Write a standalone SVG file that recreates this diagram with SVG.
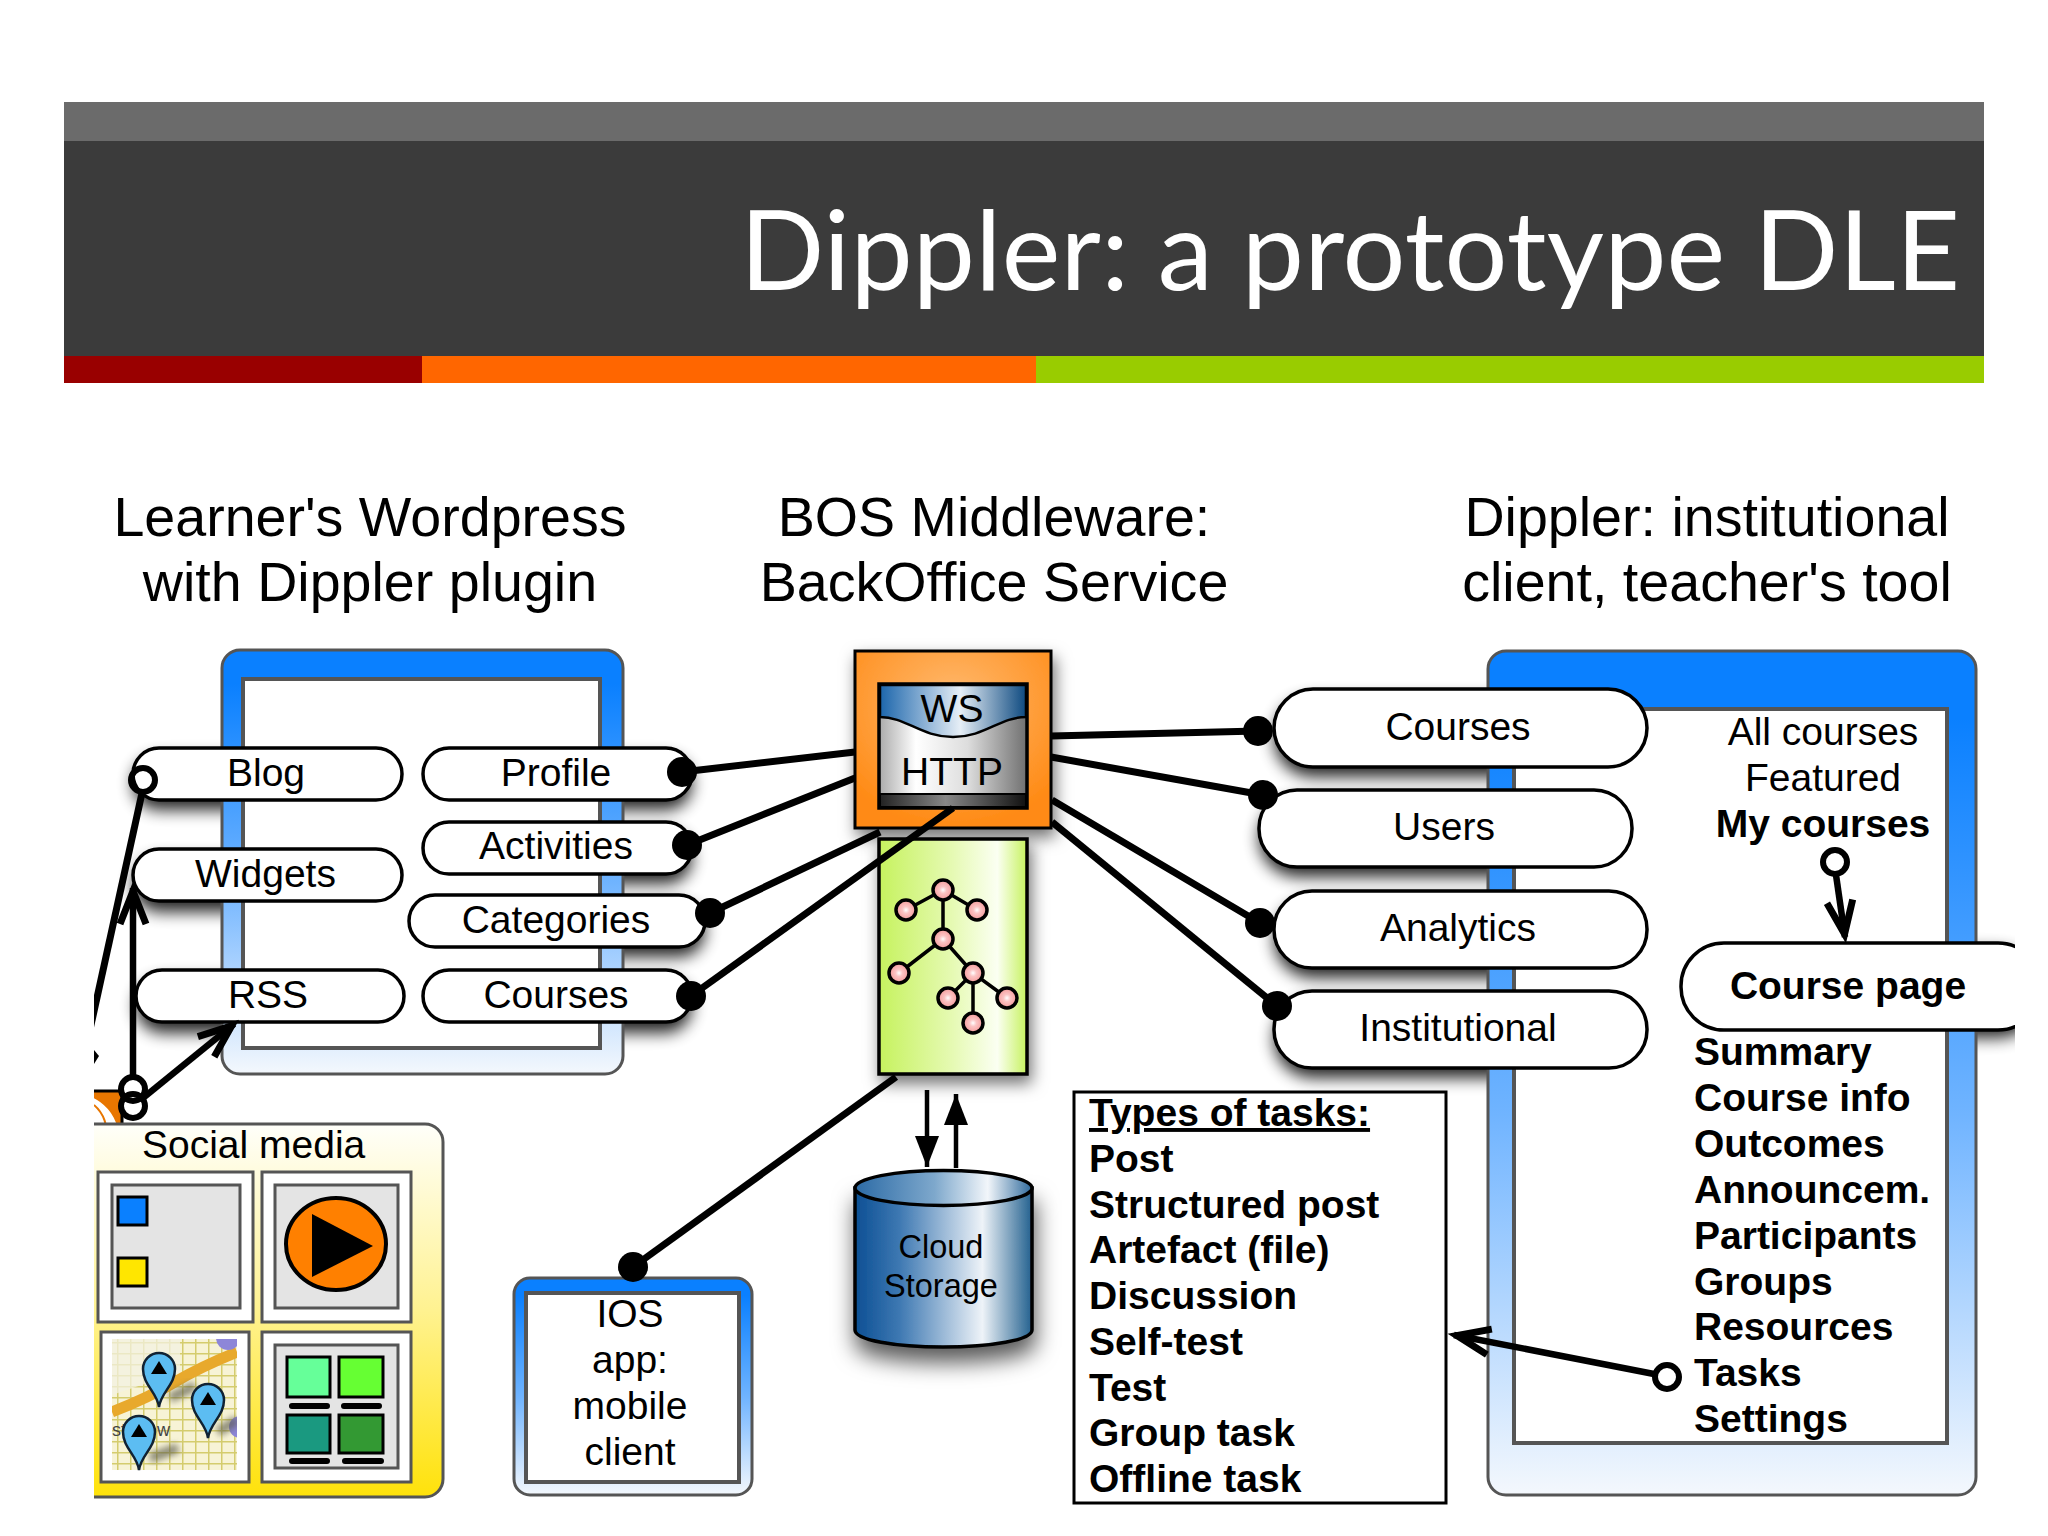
<svg xmlns="http://www.w3.org/2000/svg" width="2048" height="1536" viewBox="0 0 2048 1536">
<style>
text{font-family:"Liberation Sans",Arial,sans-serif;font-size:39px;fill:#000}
.m{text-anchor:middle}
.b{font-weight:bold}
.h{font-size:55.6px;text-anchor:middle}
.pill{fill:#fff;stroke:#000;stroke-width:3.5}
.ps{fill:#000;opacity:.85;filter:url(#blur)}
.panel{stroke:#555;stroke-width:3}
.inner{fill:#fff;stroke:#555;stroke-width:4}
.cell{fill:#fff;stroke:#555;stroke-width:3}
.gr{fill:#e4e4e4;stroke:#555;stroke-width:3}
.c{stroke:#000;stroke-width:7;fill:none}
.a{stroke:#000;stroke-width:6.5;fill:none;marker-end:url(#open)}
.o{fill:none;stroke:#000;stroke-width:6}
.n{fill:url(#pink);stroke:#000;stroke-width:3.5}
.t{stroke:#000;stroke-width:3.5;fill:none}
.tile{stroke:#000;stroke-width:3}
.pin{fill:#5cbdf2;stroke:#123;stroke-width:2.5}
</style>
<defs>
<clipPath id="clip"><rect x="94" y="440" width="1921" height="1096"/></clipPath>
<clipPath id="mapclip"><rect x="112" y="1339" width="125" height="131"/></clipPath>
<filter id="blur" x="-20%" y="-60%" width="140%" height="220%"><feGaussianBlur stdDeviation="8"/></filter>
<filter id="soft" x="-25%" y="-25%" width="150%" height="150%"><feDropShadow dx="3" dy="8" stdDeviation="8" flood-color="#000" flood-opacity=".55"/></filter>
<filter id="softer" x="-25%" y="-25%" width="150%" height="160%"><feDropShadow dx="2" dy="14" stdDeviation="11" flood-color="#000" flood-opacity=".65"/></filter>
<filter id="mapblur"><feGaussianBlur stdDeviation="3"/></filter>
<linearGradient id="blue" x1="0" y1="0" x2="0" y2="1"><stop offset=".08" stop-color="#0a80ff"/><stop offset=".55" stop-color="#70b4ff"/><stop offset="1" stop-color="#f4f8fd"/></linearGradient>
<linearGradient id="yellow" x1="0" y1="0" x2="0" y2="1"><stop offset="0" stop-color="#fffffa"/><stop offset=".5" stop-color="#fff290"/><stop offset="1" stop-color="#ffe20a"/></linearGradient>
<linearGradient id="green" x1="0" y1="0" x2="1" y2="0"><stop offset="0" stop-color="#c6f25e"/><stop offset=".5" stop-color="#e6fab4"/><stop offset=".8" stop-color="#fbfff2"/><stop offset="1" stop-color="#c6f25e"/></linearGradient>
<radialGradient id="orange" cx=".5" cy=".3" r=".7"><stop offset="0" stop-color="#ffba70"/><stop offset="1" stop-color="#ff8a14"/></radialGradient>
<linearGradient id="wsb" x1="0" y1="0" x2="1" y2="0"><stop offset="0" stop-color="#1c66ac"/><stop offset=".55" stop-color="#e6eef6"/><stop offset="1" stop-color="#0e4a80"/></linearGradient>
<linearGradient id="silver" x1="0" y1="0" x2="1" y2="0"><stop offset="0" stop-color="#aaa"/><stop offset=".25" stop-color="#fff"/><stop offset=".6" stop-color="#ddd"/><stop offset="1" stop-color="#707070"/></linearGradient>
<linearGradient id="dark" x1="0" y1="0" x2="1" y2="0"><stop offset="0" stop-color="#222"/><stop offset=".45" stop-color="#888"/><stop offset="1" stop-color="#111"/></linearGradient>
<linearGradient id="cyl" x1="0" y1="0" x2="1" y2="0"><stop offset="0" stop-color="#0c4f94"/><stop offset=".25" stop-color="#3d78b2"/><stop offset=".72" stop-color="#eef3f8"/><stop offset="1" stop-color="#23618f"/></linearGradient>
<linearGradient id="cylt" x1="0" y1="0" x2="1" y2="0"><stop offset="0" stop-color="#2c6ba6"/><stop offset=".45" stop-color="#7ea8cc"/><stop offset=".75" stop-color="#f2f6fa"/><stop offset="1" stop-color="#2f6a9c"/></linearGradient>
<radialGradient id="pink"><stop offset="0" stop-color="#fff"/><stop offset=".35" stop-color="#fbc4c4"/><stop offset="1" stop-color="#f59a9a"/></radialGradient>
<pattern id="grid" width="13" height="11" patternUnits="userSpaceOnUse"><rect width="13" height="11" fill="#f7f3d6"/><path d="M0 0H13M0 0V11" stroke="#d4cc6e" stroke-width="3" fill="none"/></pattern>
<marker id="open" markerUnits="userSpaceOnUse" viewBox="-42 -18 50 36" refX="0" refY="0" markerWidth="50" markerHeight="36" orient="auto"><path d="M-36,-13 L-3,0 L-36,13" fill="none" stroke="#000" stroke-width="7"/></marker>
<marker id="solid" markerUnits="userSpaceOnUse" viewBox="-32 -14 34 28" refX="0" refY="0" markerWidth="34" markerHeight="28" orient="auto"><path d="M-31,-12 L0,0 L-31,12 Z" fill="#000"/></marker>
</defs>

<rect width="2048" height="1536" fill="#fff"/>
<g id="header">
<rect x="64" y="102" width="1920" height="40" fill="#6b6b6b"/>
<rect x="64" y="141" width="1920" height="216" fill="#3b3b3b"/>
<rect x="64" y="356" width="358" height="27" fill="#990000"/>
<rect x="422" y="356" width="614" height="27" fill="#ff6600"/>
<rect x="1036" y="356" width="948" height="27" fill="#99cc00"/>
<text x="1960" y="290" text-anchor="end" textLength="1220" lengthAdjust="spacing" style="font-family:Lato,'Open Sans',sans-serif;font-size:111px;fill:#fff">Dippler: a prototype DLE</text>
</g>
<g id="headings">
<text class="h" x="370" y="536">Learner's Wordpress</text>
<text class="h" x="370" y="601">with Dippler plugin</text>
<text class="h" x="994" y="536">BOS Middleware:</text>
<text class="h" x="994" y="601">BackOffice Service</text>
<text class="h" x="1707" y="536">Dippler: institutional</text>
<text class="h" x="1707" y="601">client, teacher's tool</text>
</g>

<g clip-path="url(#clip)">
<g id="pill-shadows">
<rect class="ps" x="133" y="757" width="270" height="53" rx="26"/>
<rect class="ps" x="133" y="858" width="270" height="54" rx="27"/>
<rect class="ps" x="136" y="979" width="268" height="54" rx="27"/>
<rect class="ps" x="423" y="757" width="269" height="53" rx="26"/>
<rect class="ps" x="423" y="831" width="269" height="53" rx="26"/>
<rect class="ps" x="408" y="904" width="297" height="53" rx="26"/>
<rect class="ps" x="423" y="979" width="269" height="54" rx="27"/>
<rect class="ps" x="1274" y="698" width="373" height="79" rx="39"/>
<rect class="ps" x="1259" y="799" width="373" height="78" rx="39"/>
<rect class="ps" x="1274" y="900" width="373" height="78" rx="39"/>
<rect class="ps" x="1274" y="1000" width="373" height="78" rx="39"/>
<rect class="ps" x="1681" y="950" width="360" height="88" rx="44"/>
</g>

<g id="wordpress-panel">
<rect class="panel" x="222" y="650" width="401" height="424" rx="18" fill="url(#blue)"/>
<rect class="inner" x="243" y="679" width="357" height="369"/>
</g>
<g id="institutional-panel">
<rect class="panel" x="1488" y="651" width="488" height="844" rx="18" fill="url(#blue)"/>
<rect class="inner" x="1514" y="709" width="433" height="734"/>
</g>

<g id="node-blog"><rect class="pill" x="133" y="748" width="269" height="52" rx="26"/><text class="m" x="266" y="786">Blog</text></g>
<g id="node-widgets"><rect class="pill" x="133" y="849" width="269" height="52" rx="26"/><text class="m" x="265.500" y="887">Widgets</text></g>
<g id="node-rss"><rect class="pill" x="136" y="970" width="268" height="52" rx="26"/><text class="m" x="268" y="1008">RSS</text></g>
<g id="node-profile"><rect class="pill" x="423" y="748" width="269" height="52" rx="26"/><text class="m" x="556" y="786">Profile</text></g>
<g id="node-activities"><rect class="pill" x="423" y="822" width="269" height="52" rx="26"/><text class="m" x="556" y="859">Activities</text></g>
<g id="node-categories"><rect class="pill" x="409" y="895" width="296" height="52" rx="26"/><text class="m" x="556" y="933">Categories</text></g>
<g id="node-courses-left"><rect class="pill" x="423" y="970" width="269" height="52" rx="26"/><text class="m" x="556" y="1008">Courses</text></g>

<g id="node-rss-icon">
<rect x="60" y="1091" width="62" height="50" fill="#e87600" stroke="#000" stroke-width="3"/>
<path d="M60,1141 V1095 A46,46 0 0 1 119,1138 V1139.500 H60 Z" fill="#fff"/>
<path d="M94,1105 A36,36 0 0 1 106,1139" fill="none" stroke="#e87600" stroke-width="2"/>
</g>

<g id="node-social">
<rect class="panel" x="60" y="1124" width="383" height="373" rx="18" fill="url(#yellow)" stroke-width="4"/>
<text x="142" y="1158">Social media</text>
<rect class="cell" x="98" y="1172" width="155" height="150"/>
<rect class="gr" x="112" y="1185" width="128" height="123"/>
<rect x="118" y="1197" width="29" height="28" fill="#0a80ff" stroke="#000" stroke-width="3"/>
<rect x="118" y="1258" width="29" height="28" fill="#ffe600" stroke="#000" stroke-width="3"/>
<rect class="cell" x="262" y="1172" width="149" height="150"/>
<rect class="gr" x="275" y="1185" width="123" height="123"/>
<ellipse cx="336" cy="1244" rx="50" ry="46" fill="#ff8000" stroke="#000" stroke-width="4"/>
<path d="M312,1214 L373,1246 L312,1277 Z" fill="#000"/>
<rect class="cell" x="101" y="1332" width="148" height="150"/>
<g clip-path="url(#mapclip)">
<rect x="112" y="1339" width="125" height="131" fill="url(#grid)"/>
<path d="M112,1339 H180 V1372 L112,1395 Z" fill="#f3f1e2" opacity=".75"/>
<path d="M112,1412 Q150,1397 175,1382 T237,1352" fill="none" stroke="#e8a92c" stroke-width="11"/>
<circle cx="228" cy="1338" r="12" fill="#8d86d8"/>
<circle cx="240" cy="1427" r="11" fill="#8d86d8"/>
<path d="M170,1398 L195,1386 M218,1432 L237,1420 M150,1458 L178,1448" stroke="#5a5a4a" stroke-width="10" opacity=".65" filter="url(#mapblur)"/>
<text x="112" y="1436" style="font-size:18px;fill:#444">st</text>
<text x="157" y="1436" style="font-size:18px;fill:#444">w</text>
</g>
<path class="pin" d="M159,1407 C157,1392 143,1385 143,1369 A16,16 0 0 1 175,1369 C175,1385 161,1392 159,1407 Z"/>
<path d="M159,1361 L167,1374 H151 Z" fill="#000"/>
<path class="pin" d="M208,1438 C206,1423 192,1416 192,1400 A16,16 0 0 1 224,1400 C224,1416 210,1423 208,1438 Z"/>
<path d="M208,1392 L216,1405 H200 Z" fill="#000"/>
<path class="pin" d="M139,1470 C137,1455 123,1448 123,1432 A16,16 0 0 1 155,1432 C155,1448 141,1455 139,1470 Z"/>
<path d="M139,1424 L147,1437 H131 Z" fill="#000"/>
<rect class="cell" x="262" y="1332" width="149" height="150"/>
<rect class="gr" x="275" y="1345" width="123" height="123"/>
<rect class="tile" x="287" y="1357" width="43" height="40" fill="#66ff99"/>
<rect class="tile" x="339" y="1357" width="44" height="40" fill="#66ff33"/>
<rect class="tile" x="287" y="1415" width="43" height="38" fill="#1a9980"/>
<rect class="tile" x="339" y="1415" width="44" height="38" fill="#339933"/>
<path d="M292,1406 H327 M344,1406 H379 M292,1461 H327 M345,1461 H381" stroke="#000" stroke-width="6" stroke-linecap="round"/>
</g>

<g id="node-ios">
<rect class="panel" x="514" y="1278" width="238" height="217" rx="16" fill="url(#blue)"/>
<rect class="inner" x="526" y="1293" width="213" height="189"/>
<text class="m" x="630" y="1327">IOS</text>
<text class="m" x="630" y="1373">app:</text>
<text class="m" x="630" y="1419">mobile</text>
<text class="m" x="630" y="1465">client</text>
</g>

<g id="node-bos" filter="url(#soft)">
<rect x="855" y="651" width="196" height="177" fill="url(#orange)" stroke="#000" stroke-width="3"/>
</g>
<g id="node-ws-http">
<rect x="879" y="684" width="148" height="124" fill="url(#silver)" stroke="#000" stroke-width="3.500"/>
<path d="M880,685 H1026 V717 C1000,717 985,737 953,737 C921,737 906,717 880,717 Z" fill="url(#wsb)" stroke="#000" stroke-width="2.500"/>
<rect x="880" y="794" width="146" height="13" fill="url(#dark)" stroke="#000" stroke-width="2"/>
<text class="m" x="952" y="722">WS</text>
<text class="m" x="952" y="785">HTTP</text>
</g>
<g id="node-tree">
<rect x="879" y="839" width="148" height="235" fill="url(#green)" stroke="#000" stroke-width="3.500" filter="url(#soft)"/>
<path class="t" d="M906,910 L943,890 L977,910 M943,890 V939 M899,973 L943,939 L973,973 M948,998 L973,973 L1007,998 M973,973 V1023"/>
<circle class="n" cx="943" cy="890" r="10"/><circle class="n" cx="906" cy="910" r="10"/><circle class="n" cx="977" cy="910" r="10"/>
<circle class="n" cx="943" cy="939" r="10"/><circle class="n" cx="899" cy="973" r="10"/><circle class="n" cx="973" cy="973" r="10"/>
<circle class="n" cx="948" cy="998" r="10"/><circle class="n" cx="1007" cy="998" r="10"/><circle class="n" cx="973" cy="1023" r="10"/>
</g>
<g id="node-cloud">
<path d="M855,1188 V1330 C855,1340 895,1347 943,1347 C991,1347 1032,1340 1032,1330 V1188 Z" fill="url(#cyl)" stroke="#000" stroke-width="3.500" filter="url(#softer)"/>
<ellipse cx="943.500" cy="1188" rx="88.500" ry="17.500" fill="url(#cylt)" stroke="#000" stroke-width="3.500"/>
<text class="m" x="941" y="1258" style="font-size:32.5px">Cloud</text>
<text class="m" x="941" y="1297" style="font-size:32.5px">Storage</text>
</g>

<g id="node-courses"><rect class="pill" x="1274" y="689" width="373" height="78" rx="39"/><text class="m" x="1458" y="740">Courses</text></g>
<g id="node-users"><rect class="pill" x="1259" y="790" width="373" height="77" rx="38"/><text class="m" x="1444" y="840">Users</text></g>
<g id="node-analytics"><rect class="pill" x="1274" y="891" width="373" height="77" rx="38"/><text class="m" x="1458" y="941">Analytics</text></g>
<g id="node-institutional"><rect class="pill" x="1274" y="991" width="373" height="77" rx="38"/><text class="m" x="1458" y="1041">Institutional</text></g>
<g id="node-course-page"><rect class="pill" x="1681" y="943" width="360" height="87" rx="43"/><text class="m b" x="1848" y="999">Course page</text></g>

<g id="course-list">
<text class="m" x="1823" y="745">All courses</text>
<text class="m" x="1823" y="791">Featured</text>
<text class="m b" x="1823" y="837">My courses</text>
<text class="b" x="1694" y="1065">Summary</text>
<text class="b" x="1694" y="1111">Course info</text>
<text class="b" x="1694" y="1157">Outcomes</text>
<text class="b" x="1694" y="1203">Announcem.</text>
<text class="b" x="1694" y="1249">Participants</text>
<text class="b" x="1694" y="1295">Groups</text>
<text class="b" x="1694" y="1340">Resources</text>
<text class="b" x="1694" y="1386">Tasks</text>
<text class="b" x="1694" y="1432">Settings</text>
</g>

<g id="node-tasks">
<rect x="1074" y="1092" width="372" height="411" fill="#fff" stroke="#000" stroke-width="3"/>
<text class="b" x="1089" y="1126" text-decoration="underline">Types of tasks:</text>
<text class="b" x="1089" y="1172">Post</text>
<text class="b" x="1089" y="1218">Structured post</text>
<text class="b" x="1089" y="1263">Artefact (file)</text>
<text class="b" x="1089" y="1309">Discussion</text>
<text class="b" x="1089" y="1355">Self-test</text>
<text class="b" x="1089" y="1401">Test</text>
<text class="b" x="1089" y="1446">Group task</text>
<text class="b" x="1089" y="1492">Offline task</text>
</g>

<g id="connectors">
<path class="c" d="M682,772 L855,752"/><circle cx="682" cy="772" r="15"/>
<path class="c" d="M687,845 L855,778"/><circle cx="687" cy="845" r="15"/>
<path class="c" d="M710,913 L880,832"/><circle cx="710" cy="913" r="15"/>
<path class="c" d="M691,996 L953,808"/><circle cx="691" cy="996" r="15"/>
<path class="c" d="M1051,736 L1258,731"/><circle cx="1258" cy="731" r="15"/>
<path class="c" d="M1051,757 L1263,795"/><circle cx="1263" cy="795" r="15"/>
<path class="c" d="M1052,800 L1260,923"/><circle cx="1260" cy="923" r="15"/>
<path class="c" d="M1052,822 L1277,1006"/><circle cx="1277" cy="1006" r="15"/>
<path class="c" d="M896,1077 L633,1267"/><circle cx="633" cy="1267" r="15"/>
<path d="M927,1090 V1167" stroke="#000" stroke-width="4.500" marker-end="url(#solid)"/>
<path d="M956,1168 V1094" stroke="#000" stroke-width="4.500" marker-end="url(#solid)"/>
<path class="c" d="M142,793 L80,1075" stroke-width="6"/>
<path d="M94,1050 L99,1056 L94,1064 Z" fill="#000"/>
<circle class="o" cx="143" cy="780" r="12" fill="#fff"/>
<path class="a" d="M133,1076 V888"/>
<path class="a" d="M143,1098 L234,1024"/>
<circle class="o" cx="133" cy="1089" r="12"/>
<circle class="o" cx="133" cy="1106" r="12"/>
<path class="a" d="M1836,875 L1845,937"/>
<circle class="o" cx="1835" cy="862" r="12"/>
<path class="a" d="M1654,1374 L1454,1335"/>
<circle class="o" cx="1667" cy="1377" r="12"/>
</g>
</g>
</svg>
